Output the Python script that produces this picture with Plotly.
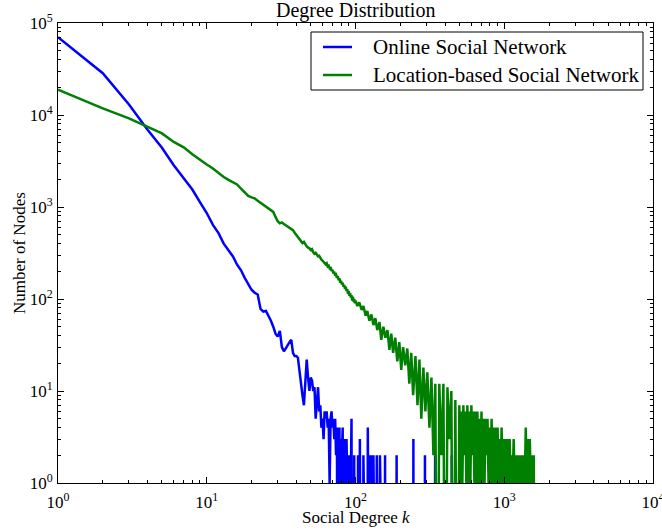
import plotly.graph_objects as go

# ---------------- data ----------------
online_k = list(range(1, 62)) + [
    62, 63, 64, 65, 66, 67, 68, 69, 70, 71, 72, 73, 74, 75, 76, 77, 78, 79, 80,
    81, 82, 83, 84, 85, 86, 87, 88, 89, 90, 91, 92, 93, 94, 95, 96, 97, 98, 99,
    100, 101, 103, 104, 105, 106, 107, 108, 109, 110, 111, 112, 113, 114, 120,
    121, 122, 124, 125, 126, 127, 128, 129, 131, 132, 133, 138, 139, 140, 145,
    146, 147, 157, 158, 159, 188, 189, 190, 244, 245, 246, 292, 293, 294, 342,
    343, 344, 443, 444, 445, 500]
online_n = [
    70000, 28500, 13000, 6900, 4400, 2850, 2050, 1550, 1130, 860,
    640, 520, 400, 335, 290, 236, 205, 170, 148, 126,
    117, 112, 78, 73, 74, 66, 58, 50, 42, 39,
    45, 30, 27, 29, 32, 34, 36, 26, 24, 24,
    23, 16, 12, 9, 7, 15, 22, 14, 10, 14,
    13, 10, 11, 5, 8, 11, 6, 7, 4, 5, 3,
    6, 5, 6, 4, 5, 1, 5, 6, 4, 5, 3, 5, 2, 4, 0, 3, 4, 0, 3,
    2, 4, 0, 2, 3, 0, 3, 1, 2, 0, 2, 0, 1, 5, 0, 1, 0, 2, 0,
    1, 0, 0, 2, 0, 0, 3, 0, 0, 1, 0, 0, 2, 0, 0,
    4, 0, 0, 2, 0, 0, 2, 0, 0, 2, 0, 0, 2, 0, 0,
    2, 0, 0, 2, 0, 0, 2, 0, 0, 3, 0, 0, 2, 0, 0,
    2, 0, 0, 2, 0, 0]

lbsn_k = list(range(1, 100)) + [
    100, 103, 106, 110, 113, 117, 120, 124, 128, 132, 136, 140, 145, 149, 154,
    159, 164, 169, 174, 179, 185, 191, 197, 203, 209, 216, 223, 230, 237, 244,
    253, 261, 269, 277, 286, 295, 304, 314, 324, 334, 344, 355, 366, 378, 390,
    402, 415, 428, 441, 455, 469, 484,
    499, 507, 515, 523, 531, 539, 548, 556, 565, 574, 583, 592, 601, 611, 620,
    630, 640, 650, 660, 671, 682, 692, 703, 714, 725, 737, 748, 760, 772, 784,
    796, 809, 822, 834, 848, 861, 874, 888, 902, 916, 931, 945, 960, 975, 990,
    1006, 1022, 1038, 1054, 1071, 1087, 1104, 1122, 1139, 1157, 1175, 1194,
    1213, 1232, 1251, 1271, 1291, 1311, 1331, 1352, 1374, 1395, 1417, 1439,
    1462, 1485, 1508, 1532, 1556, 1580, 1605]
lbsn_n = [
    18900, 11800, 9200, 7400, 6300, 5100, 4450, 3750, 3250, 2900,
    2620, 2320, 2120, 1970, 1860, 1760, 1580, 1440, 1320, 1270,
    1240, 1170, 1110, 1060, 1000, 950, 915, 885, 780, 700,
    665, 680, 655, 635, 610, 595, 575, 560, 525, 495,
    470, 450, 428, 405, 418, 388, 372, 362, 356, 340,
    348, 322, 310, 318, 298, 290, 294, 278, 268, 262,
    255, 250, 238, 244, 226, 230, 216, 222, 202, 208,
    190, 198, 180, 184, 170, 178, 160, 168, 150, 158,
    144, 150, 136, 142, 128, 136, 122, 128, 114, 122,
    108, 116, 104, 110, 96, 106, 94, 100, 90,
    96, 84, 92, 76, 84, 66, 74, 58, 68, 52, 62, 46, 56, 36, 50,
    38, 46, 28, 42, 26, 38, 21, 34, 17, 30, 19, 29, 12, 26, 9,
    24, 7, 22, 5, 18, 6, 16, 4, 14, 2, 12, 0, 12, 2, 12,
    0, 11, 3, 10, 0, 8, 0,
    7, 1, 6, 1, 7, 2, 6, 1, 7, 1, 6, 1, 7, 2, 6,
    1, 6, 1, 6, 1, 5, 1, 6, 1, 5, 1, 5, 2, 5, 1,
    4, 1, 5, 1, 4, 1, 4, 1, 4, 1, 3, 1, 4, 1, 3,
    1, 3, 1, 3, 1, 3, 1, 2, 1, 3, 1, 2,
    1, 2, 1, 2, 1, 2, 1, 2, 1, 4, 1, 3,
    1, 3, 1, 2, 1, 2, 0]

series_names = ["Online Social Network", "Location-based Social Network"]
series_colors = ["#0000ff", "#008000"]

tick_vals = [1, 10, 100, 1000, 10000]
x_tick_text = ["10<sup>0</sup>", "10<sup>1</sup>", "10<sup>2</sup>", "10<sup>3</sup>", "10<sup>4</sup>"]
y_tick_vals = [1, 10, 100, 1000, 10000, 100000]
y_tick_text = ["10<sup>0</sup>", "10<sup>1</sup>", "10<sup>2</sup>", "10<sup>3</sup>", "10<sup>4</sup>", "10<sup>5</sup>"]


def clip_zero(vals):
    # like matplotlib's log-scale clipping of non-positive counts
    return [v if v > 0 else 1e-3 for v in vals]


FONT = "Liberation Serif"
W, H = 662, 531
ML, MR, MT, MB = 58, 9, 23, 48
PW, PH = W - ML - MR, H - MT - MB


def px(x):
    return (x - ML) / PW


def py(y):
    return (H - MB - y) / PH


fig = go.Figure()
for k, n, name, col in [(online_k, online_n, series_names[0], series_colors[0]),
                        (lbsn_k, lbsn_n, series_names[1], series_colors[1])]:
    fig.add_trace(go.Scatter(x=k, y=clip_zero(n), mode="lines", name=name,
                             line=dict(color=col, width=2.5)))

axis_common = dict(
    type="log", ticks="inside", ticklen=6, tickwidth=1, tickcolor="black",
    showline=True, linecolor="black", linewidth=1, mirror="ticks",
    showgrid=False, zeroline=False, ticklabeloverflow="allow", automargin=False,
    minor=dict(ticks="inside", ticklen=3, tickwidth=1, tickcolor="black",
               dtick="D1", showgrid=False),
    tickfont=dict(family=FONT, size=17, color="black"),
)

fig.update_xaxes(range=[0, 4], tickmode="array", tickvals=tick_vals,
                 ticktext=x_tick_text, ticklabelstandoff=4, **axis_common)
fig.update_yaxes(range=[0, 5], tickmode="array", tickvals=y_tick_vals,
                 ticktext=y_tick_text, ticklabelstandoff=1, **axis_common)

# legend box drawn in the matplotlib style
shapes = [dict(type="rect", xref="paper", yref="paper",
               x0=px(311), x1=px(643), y0=py(90), y1=py(32),
               line=dict(color="black", width=1), fillcolor="white", layer="above")]
annotations = []
for i, (name, col) in enumerate(zip(series_names, series_colors)):
    yy = py(47 + 28 * i)
    shapes.append(dict(type="line", xref="paper", yref="paper",
                       x0=px(323), x1=px(352), y0=yy, y1=yy,
                       line=dict(color=col, width=2.5), layer="above"))
    annotations.append(dict(text=name, xref="paper", yref="paper",
                            x=px(371), y=yy, xanchor="left", yanchor="middle",
                            showarrow=False,
                            font=dict(family=FONT, size=21, color="black")))

annotations += [
    dict(text="Degree Distribution", xref="paper", yref="paper",
         x=0.5, y=py(11), xanchor="center", yanchor="middle",
         showarrow=False, font=dict(family=FONT, size=20, color="black")),
    dict(text="Social Degree <i>k</i>", xref="paper", yref="paper",
         x=0.5, y=py(517), xanchor="center", yanchor="middle",
         showarrow=False, font=dict(family=FONT, size=17, color="black")),
    dict(text="Number of Nodes", xref="paper", yref="paper",
         x=px(19), y=0.5, xanchor="center", yanchor="middle", textangle=-90,
         showarrow=False, font=dict(family=FONT, size=17, color="black")),
]

fig.update_layout(
    width=W, height=H,
    margin=dict(l=ML, r=MR, t=MT, b=MB),
    plot_bgcolor="white", paper_bgcolor="white",
    font=dict(family=FONT, size=17, color="black"),
    showlegend=False,
    shapes=shapes,
    annotations=annotations,
)

fig.write_html("out.html")
